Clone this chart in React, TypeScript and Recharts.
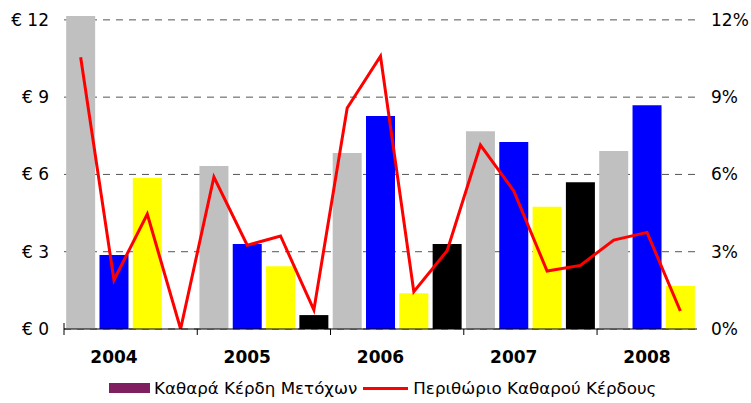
import { ComposedChart, Bar, Line, Cell, XAxis, YAxis, CartesianGrid, Legend } from "recharts";

const quarters = [
  "2004-1", "2004-2", "2004-3", "2004-4",
  "2005-1", "2005-2", "2005-3", "2005-4",
  "2006-1", "2006-2", "2006-3", "2006-4",
  "2007-1", "2007-2", "2007-3", "2007-4",
  "2008-1", "2008-2", "2008-3",
];
const years = ["2004", "2005", "2006", "2007", "2008"];
// € per share
const netProfit = [12.15, 2.87, 5.86, 0, 6.33, 3.3, 2.44, 0.54, 6.83, 8.27, 1.39, 3.3, 7.68, 7.26, 4.75, 5.7, 6.91, 8.69, 1.67];
// %
const netMargin = [10.55, 1.9, 4.46, 0, 5.9, 3.25, 3.61, 0.74, 8.58, 10.59, 1.45, 3.04, 7.14, 5.36, 2.25, 2.47, 3.45, 3.75, 0.7];
const yTicks = [0, 3, 6, 9, 12];

const BAR_COLORS = ["#C0C0C0", "#0000FF", "#FFFF00", "#000000"];
const FONT = "'DejaVu Sans', Verdana, sans-serif";
const SLOT = 633 / quarters.length;

const data = quarters.map((q, i) => ({ q, profit: netProfit[i], margin: netMargin[i] }));

function XTick({ x, index }: any) {
  if (index % 4 === 0) {
    const bx = x - SLOT / 2;
    return <line x1={bx} x2={bx} y1={index === 0 ? 323 : 329} y2={335} stroke="#000" strokeWidth={1} />;
  }
  if (index % 4 === 1) {
    return (
      <text x={x} y={363} textAnchor="middle" fontFamily={FONT} fontSize={17} fontWeight="bold" fill="#000">
        {years[Math.floor(index / 4)]}
      </text>
    );
  }
  return null;
}

function LeftTick({ y, payload }: any) {
  return (
    <text x={49} y={y} dy={6} textAnchor="end" fontFamily={FONT} fontSize={17} fill="#000">
      € {payload.value}
    </text>
  );
}

function RightTick({ y, payload }: any) {
  return (
    <text x={711} y={y} dy={6} textAnchor="start" fontFamily={FONT} fontSize={17} fill="#000">
      {payload.value}%
    </text>
  );
}

function LegendBox() {
  return (
    <div
      style={{
        display: "flex",
        alignItems: "center",
        height: 20,
        paddingLeft: 109,
        fontFamily: FONT,
        fontSize: 16.7,
        color: "#000",
        whiteSpace: "nowrap",
      }}
    >
      <span style={{ flexShrink: 0, width: 41, height: 10, background: "#7F1F5F", marginRight: 4 }} />
      <span>Καθαρά Κέρδη Μετόχων</span>
      <span style={{ flexShrink: 0, width: 45, height: 3, background: "#FF0000", margin: "0 5px 0 6px" }} />
      <span>Περιθώριο Καθαρού Κέρδους</span>
    </div>
  );
}

export default function App() {
  return (
    <div style={{ position: "absolute", left: 0, top: 0, background: "#fff" }}>
      <ComposedChart
        width={751}
        height={403}
        data={data}
        margin={{ top: 16, right: 0, bottom: 5, left: 0 }}
        barCategoryGap="6.5%"
      >
        <CartesianGrid
          yAxisId="left"
          vertical={false}
          horizontalValues={yTicks}
          stroke="#555"
          strokeDasharray="7 6"
        />
        <XAxis
          dataKey="q"
          interval={0}
          height={49}
          tickLine={false}
          axisLine={{ stroke: "#000" }}
          tick={<XTick />}
        />
        <YAxis
          yAxisId="left"
          width={64}
          domain={[0, 12.15]}
          allowDataOverflow
          ticks={yTicks}
          axisLine={false}
          tickLine={false}
          tick={<LeftTick />}
        />
        <YAxis
          yAxisId="right"
          orientation="right"
          width={54}
          domain={[0, 12.15]}
          allowDataOverflow
          ticks={yTicks}
          axisLine={false}
          tickLine={false}
          tick={<RightTick />}
        />
        <Bar yAxisId="left" dataKey="profit" name="Καθαρά Κέρδη Μετόχων" isAnimationActive={false}>
          {data.map((d, i) => (
            <Cell key={d.q} fill={BAR_COLORS[i % 4]} />
          ))}
        </Bar>
        <Line
          yAxisId="right"
          dataKey="margin"
          name="Περιθώριο Καθαρού Κέρδους"
          type="linear"
          stroke="#FF0000"
          strokeWidth={3}
          dot={false}
          activeDot={false}
          isAnimationActive={false}
        />
        <Legend
          verticalAlign="bottom"
          content={<LegendBox />}
          wrapperStyle={{ left: 0, width: 751, height: 20 }}
        />
      </ComposedChart>
    </div>
  );
}
